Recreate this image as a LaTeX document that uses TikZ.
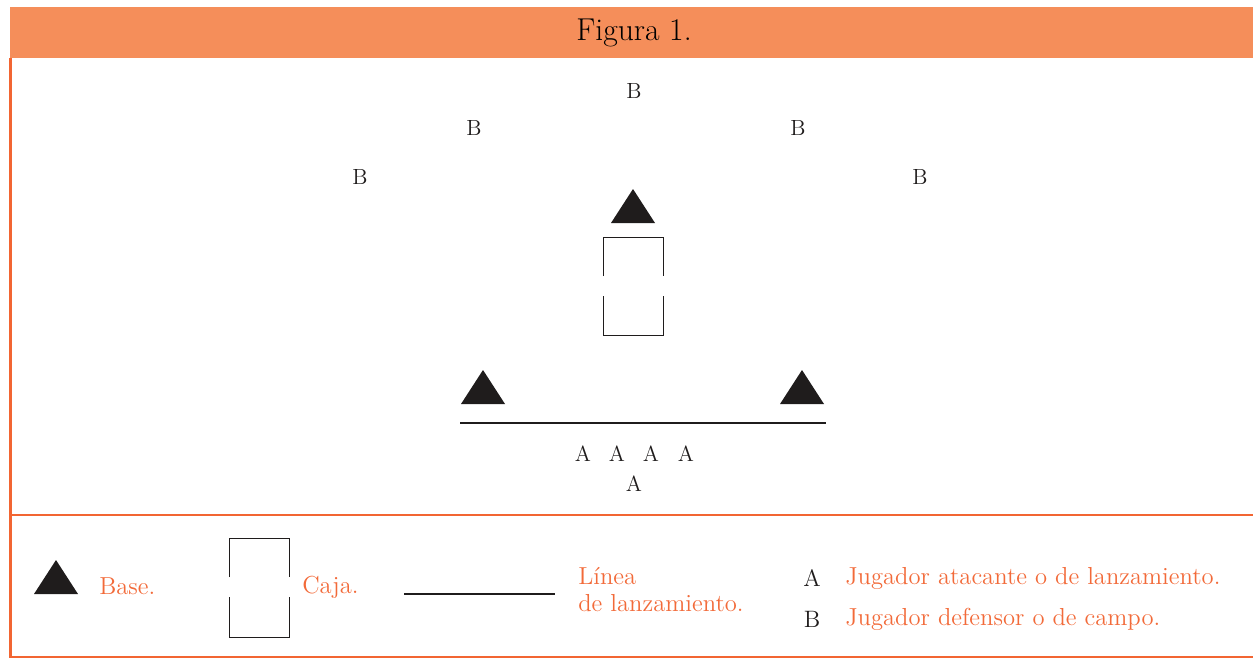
\documentclass[tikz,border=0pt]{standalone}
\usepackage{tikz}
\usetikzlibrary{calc}
\definecolor{barra}{rgb}{0.961,0.557,0.353}
\definecolor{borde}{rgb}{0.949,0.396,0.196}
\definecolor{leyenda}{rgb}{0.949,0.416,0.224}
\definecolor{negro}{rgb}{0.12,0.11,0.11}
\tikzstyle{jugador}=[inner sep=0pt,font=\fontsize{12.5}{14}\selectfont,text=negro]
\tikzstyle{rotulo}=[inner sep=0pt,anchor=west,font=\fontsize{14}{15.5}\selectfont,text=leyenda]

\begin{document}
\begin{tikzpicture}[line cap=butt,line join=miter,x=0.02cm,y=-0.02cm]
    \useasboundingbox (0,0) rectangle (1253,659);
    % cabecera
    \fill[color=barra] (10,7) rectangle (1253,58);
    \node (titulo) at (634,33) {\fontsize{18}{21}\selectfont Figura 1.};
    % marco
    \draw[line width=1.2pt,color=borde] (10.5,58) -- (10.5,657) -- (1253,657);
    \draw[line width=1.2pt,color=borde] (10.5,515) -- (1253,515);
    % defensores
    \node[jugador] (b1) at (634,91) {B};
    \node[jugador] (b2) at (474,128) {B};
    \node[jugador] (b3) at (798,128) {B};
    \node[jugador] (b4) at (360,177) {B};
    \node[jugador] (b5) at (920,177) {B};
    % bases
    \fill[color=negro] (611,223) -- (633,189) -- (655,223) -- cycle;
    \fill[color=negro] (461,404) -- (483,370) -- (505,404) -- cycle;
    \fill[color=negro] (780,404) -- (802,370) -- (824,404) -- cycle;
    % caja
    \draw[line width=0.5pt,color=negro] (603,276) -- (603,237) -- (663,237) -- (663,276);
    \draw[line width=0.5pt,color=negro] (603,296) -- (603,335) -- (663,335) -- (663,296);
    % linea de lanzamiento
    \draw[line width=0.7pt,color=negro] (460,423) -- (826,423);
    % atacantes
    \foreach \x/\n in {583/1,617/2,651/3,686/4}
        \node[jugador] (a\n) at (\x,454) {A};
    \node[jugador] (a5) at (634,484) {A};
    % leyenda
    \fill[color=negro] (34,594) -- (56,560) -- (78,594) -- cycle;
    \node[rotulo] (base) at (99,586) {Base.};
    \draw[line width=0.5pt,color=negro] (229,577) -- (229,538) -- (289,538) -- (289,577);
    \draw[line width=0.5pt,color=negro] (229,597) -- (229,637) -- (289,637) -- (289,597);
    \node[rotulo] (caja) at (302,587) {Caja.};
    \draw[line width=0.7pt,color=negro] (404,594) -- (555,594);
    \node[rotulo,anchor=north west,align=left] (linea) at (578,567) {L\'inea\\de lanzamiento.};
    \node[jugador,font=\fontsize{13.5}{16}\selectfont] (la) at (812,578) {A};
    \node[rotulo] (ta) at (845,578) {Jugador atacante o de lanzamiento.};
    \node[jugador,font=\fontsize{13.5}{16}\selectfont] (lb) at (812,619) {B};
    \node[rotulo] (tb) at (845,619) {Jugador defensor o de campo.};
\end{tikzpicture}
\end{document}
